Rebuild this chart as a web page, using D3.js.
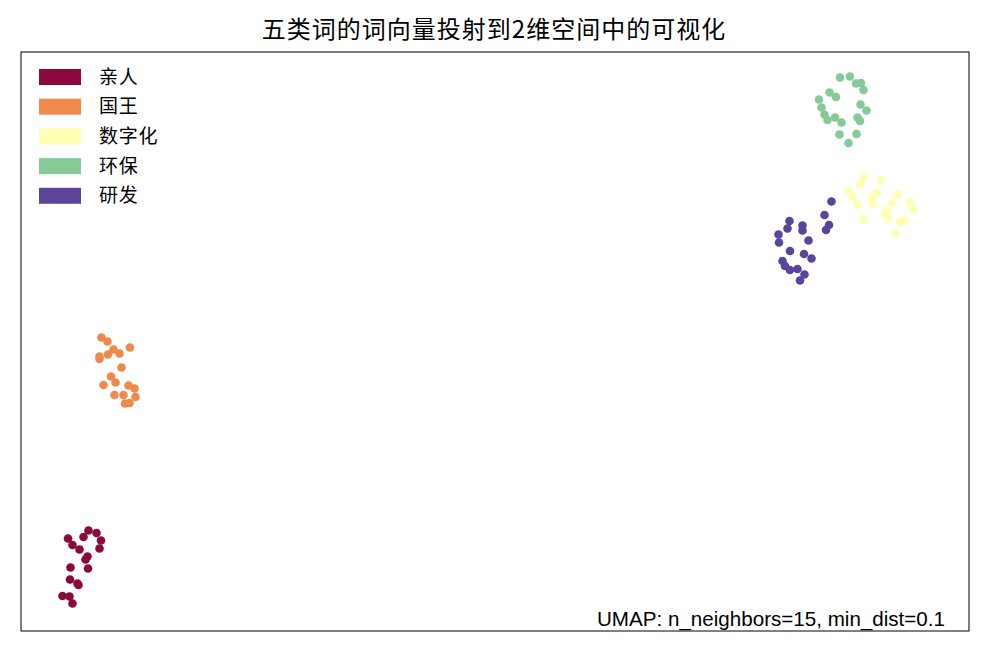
<!DOCTYPE html>
<html>
<head>
<meta charset="utf-8">
<script src="https://cdn.jsdelivr.net/npm/d3@7"></script>
<style>
  body { margin: 0; background: #fff; }
  text { font-family: "Noto Sans CJK SC", "Liberation Sans", Arial, sans-serif; }
</style>
</head>
<body>
<svg id="chart"></svg>
<script>
var W = 989, H = 653;

// categories and colours
var categories = ['亲人', '国王', '数字化', '环保', '研发'];
var colors = ['#8b0a3e', '#ef8a4c', '#ffffb3', '#86cb97', '#5a4599'];

// 2D embedding (UMAP) points per category, [x, y]
var pts_qinren = [[-0.65,1.01],[-0.75,0.88],[-0.49,0.96],[-0.40,0.81],[-0.43,0.65],[-1.06,0.85],
  [-0.97,0.72],[-0.83,0.63],[-0.67,0.49],[-0.71,0.43],[-0.66,0.25],[-1.01,0.27],[-1.02,0.03],
  [-0.85,-0.08],[-0.87,-0.05],[-1.17,-0.30],[-1.03,-0.31],[-0.97,-0.45]];
var pts_guowang = [[-0.39,4.87],[-0.27,4.79],[0.18,4.67],[-0.15,4.63],[-0.03,4.55],[-0.26,4.53],
  [-0.43,4.49],[-0.43,4.44],[0.01,4.27],[-0.20,4.09],[-0.11,3.97],[-0.35,3.92],[0.15,3.91],
  [0.27,3.85],[0.29,3.68],[0.05,3.72],[-0.13,3.72],[0.08,3.55],[0.17,3.56]];
var pts_shuzihua = [[14.85,8.07],[14.78,7.93],[15.20,8.01],[14.55,7.80],[14.63,7.67],[14.73,7.52],
  [15.11,7.77],[15.01,7.67],[15.05,7.55],[15.53,7.73],[15.43,7.56],[15.78,7.57],[15.85,7.42],
  [15.31,7.40],[15.28,7.33],[15.35,7.25],[14.84,7.23],[15.66,7.21],[15.58,7.17],[15.48,6.95]];
var pts_huanbao = [[14.38,10.07],[14.58,10.09],[14.70,9.95],[14.80,9.96],[14.85,9.82],[14.17,9.77],
  [14.30,9.68],[13.96,9.63],[14.01,9.47],[14.79,9.53],[14.91,9.41],[14.07,9.33],[14.13,9.22],
  [14.28,9.27],[14.41,9.17],[14.73,9.27],[14.78,9.20],[14.37,8.93],[14.71,8.94],[14.55,8.76]];
var pts_yanfa = [[14.21,7.59],[14.07,7.32],[14.16,7.12],[14.10,7.02],[13.37,7.20],[13.33,7.05],
  [13.63,7.11],[13.63,7.01],[13.15,6.93],[13.16,6.77],[13.75,6.81],[13.38,6.60],[13.66,6.54],
  [13.81,6.45],[13.23,6.40],[13.28,6.30],[13.38,6.22],[13.53,6.24],[13.67,6.13],[13.58,6.01]];

var titleText = '五类词的词向量投射到2维空间中的可视化';
var noteText = 'UMAP: n_neighbors=15, min_dist=0.1';

var groups = [pts_qinren, pts_guowang, pts_shuzihua, pts_huanbao, pts_yanfa];

var margin = {left: 21, top: 52, right: 20, bottom: 22};
var plotW = W - margin.left - margin.right,
    plotH = H - margin.top - margin.bottom;

var svg = d3.select('#chart')
            .attr('width', W)
            .attr('height', H);

var x = d3.scaleLinear().domain([-2, 16.96]).range([0, plotW]);
var y = d3.scaleLinear().domain([-1, 10.58]).range([plotH, 0]);

var g = svg.append('g')
           .attr('transform', 'translate(' + margin.left + ',' + margin.top + ')');

// points, one group per category
groups.forEach(function(pts, i){
    g.append('g')
     .selectAll('circle')
     .data(pts)
     .enter()
     .append('circle')
       .attr('cx', d => x(d[0]))
       .attr('cy', d => y(d[1]))
       .attr('r', 4.3)
       .attr('fill', colors[i]);
});

// frame
g.append('rect')
 .attr('x', 0).attr('y', 0)
 .attr('width', plotW).attr('height', plotH)
 .attr('fill', 'none')
 .attr('stroke', '#000')
 .attr('stroke-width', 1);

// legend
var legend = g.selectAll('.legendItem')
              .data(categories)
              .enter()
              .append('g')
              .attr('class', 'legendItem')
              .attr('transform', (d, i) => 'translate(18,' + (17 + i * 29.7) + ')');

legend.append('rect')
      .attr('width', 42)
      .attr('height', 16)
      .attr('fill', (d, i) => colors[i]);

legend.append('text')
      .attr('x', 60)
      .attr('y', 8)
      .attr('dy', '0.35em')
      .attr('font-size', '19px')
      .attr('letter-spacing', '0.8px')
      .attr('fill', '#000')
      .text(d => d);

// title
svg.append('text')
   .attr('x', margin.left + plotW / 2 - 1)
   .attr('y', 38)
   .attr('text-anchor', 'middle')
   .attr('font-size', '24px')
   .attr('letter-spacing', '1px')
   .attr('fill', '#000')
   .text(titleText);

// note bottom right
g.append('text')
 .attr('x', plotW - 24)
 .attr('y', plotH - 5)
 .attr('text-anchor', 'end')
 .attr('font-size', '20.6px')
 .style('font-family', '"Liberation Sans", Arial, sans-serif')
 .attr('fill', '#000')
 .text(noteText);
</script>
</body>
</html>
